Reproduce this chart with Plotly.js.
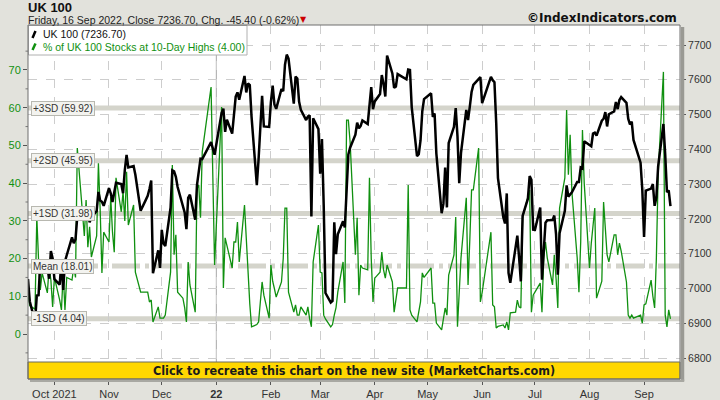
<!DOCTYPE html>
<html><head><meta charset="utf-8">
<script src="https://cdn.plot.ly/plotly-3.0.1.min.js"></script>
<style>html,body{margin:0;padding:0;background:#e2e2dc}#chart{width:720px;height:400px}</style>
</head><body><div id="chart"></div>
<script>
const dates = [
'2021-09-16','2021-09-17','2021-09-20','2021-09-21','2021-09-22','2021-09-23','2021-09-24','2021-09-27','2021-09-28','2021-09-29','2021-09-30',
'2021-10-01','2021-10-04','2021-10-05','2021-10-06','2021-10-07','2021-10-08','2021-10-11','2021-10-12','2021-10-13','2021-10-14','2021-10-15',
'2021-10-18','2021-10-19','2021-10-20','2021-10-21','2021-10-22','2021-10-25','2021-10-26','2021-10-27','2021-10-28','2021-10-29',
'2021-11-01','2021-11-02','2021-11-03','2021-11-04','2021-11-05','2021-11-08','2021-11-09','2021-11-10','2021-11-11','2021-11-12',
'2021-11-15','2021-11-16','2021-11-17','2021-11-18','2021-11-19','2021-11-22','2021-11-23','2021-11-24','2021-11-25','2021-11-26','2021-11-29','2021-11-30',
'2021-12-01','2021-12-02','2021-12-03','2021-12-06','2021-12-07','2021-12-08','2021-12-09','2021-12-10','2021-12-13','2021-12-14','2021-12-15','2021-12-16','2021-12-17',
'2021-12-20','2021-12-21','2021-12-22','2021-12-23','2021-12-24','2021-12-29','2021-12-30','2021-12-31',
'2022-01-04','2022-01-05','2022-01-06','2022-01-07','2022-01-10','2022-01-11','2022-01-12','2022-01-13','2022-01-14','2022-01-17','2022-01-18','2022-01-19','2022-01-20','2022-01-21',
'2022-01-24','2022-01-25','2022-01-26','2022-01-27','2022-01-28','2022-01-31',
'2022-02-01','2022-02-02','2022-02-03','2022-02-04','2022-02-07','2022-02-08','2022-02-09','2022-02-10','2022-02-11','2022-02-14','2022-02-15','2022-02-16','2022-02-17','2022-02-18',
'2022-02-21','2022-02-22','2022-02-23','2022-02-24','2022-02-25','2022-02-28',
'2022-03-01','2022-03-02','2022-03-03','2022-03-04','2022-03-07','2022-03-08','2022-03-09','2022-03-10','2022-03-11','2022-03-14','2022-03-15','2022-03-16','2022-03-17','2022-03-18',
'2022-03-21','2022-03-22','2022-03-23','2022-03-24','2022-03-25','2022-03-28','2022-03-29','2022-03-30','2022-03-31',
'2022-04-01','2022-04-04','2022-04-05','2022-04-06','2022-04-07','2022-04-08','2022-04-11','2022-04-12','2022-04-13','2022-04-14','2022-04-19','2022-04-20','2022-04-21','2022-04-22',
'2022-04-25','2022-04-26','2022-04-27','2022-04-28','2022-04-29',
'2022-05-03','2022-05-04','2022-05-05','2022-05-06','2022-05-09','2022-05-10','2022-05-11','2022-05-12','2022-05-13','2022-05-16','2022-05-17','2022-05-18','2022-05-19','2022-05-20',
'2022-05-23','2022-05-24','2022-05-25','2022-05-26','2022-05-27','2022-05-30','2022-05-31',
'2022-06-01','2022-06-06','2022-06-07','2022-06-08','2022-06-09','2022-06-10','2022-06-13','2022-06-14','2022-06-15','2022-06-16','2022-06-17',
'2022-06-20','2022-06-21','2022-06-22','2022-06-23','2022-06-24','2022-06-27','2022-06-28','2022-06-29','2022-06-30',
'2022-07-01','2022-07-04','2022-07-05','2022-07-06','2022-07-07','2022-07-08','2022-07-11','2022-07-12','2022-07-13','2022-07-14','2022-07-15',
'2022-07-18','2022-07-19','2022-07-20','2022-07-21','2022-07-22','2022-07-25','2022-07-26','2022-07-27','2022-07-28','2022-07-29',
'2022-08-01','2022-08-02','2022-08-03','2022-08-04','2022-08-05','2022-08-08','2022-08-09','2022-08-10','2022-08-11','2022-08-12',
'2022-08-15','2022-08-16','2022-08-17','2022-08-18','2022-08-19','2022-08-22','2022-08-23','2022-08-24','2022-08-25','2022-08-26','2022-08-30','2022-08-31',
'2022-09-01','2022-09-02','2022-09-05','2022-09-06','2022-09-07','2022-09-08','2022-09-09','2022-09-12','2022-09-13','2022-09-14','2022-09-15','2022-09-16'
];
const ukx = [
7027.1,6963.6,6903.9,6980.0,6980.9,7078.4,7051.5,7063.4,7028.1,7108.0,7086.4,
7027.1,7011.0,7077.1,6995.9,7078.0,7095.6,7146.9,7130.2,7141.8,7207.7,7234.0,
7203.8,7217.5,7223.1,7190.3,7204.6,7222.8,7277.6,7253.3,7249.5,7237.6,
7288.6,7274.0,7248.9,7279.8,7303.9,7300.4,7274.0,7340.2,7384.2,7347.9,
7351.9,7326.9,7291.2,7255.5,7223.6,7255.5,7266.7,7286.3,7310.4,7044.0,7109.9,7059.5,
7168.7,7129.2,7122.3,7232.3,7339.9,7337.1,7321.3,7291.8,7231.4,7218.6,7170.8,7260.6,7269.9,
7198.0,7297.4,7341.7,7373.3,7372.1,7420.7,7403.0,7384.5,
7505.2,7516.9,7450.4,7485.3,7445.3,7491.4,7551.7,7563.9,7542.9,7611.2,7563.6,7589.7,7585.0,7494.1,
7297.2,7371.5,7469.8,7554.3,7466.1,7464.4,
7535.8,7583.0,7528.8,7516.4,7573.5,7567.1,7643.4,7672.4,7661.0,7531.6,7608.9,7603.8,7537.4,7513.6,
7484.3,7494.2,7498.2,7207.4,7489.5,7458.3,
7330.2,7429.6,7238.9,6987.1,6959.5,6964.1,7190.7,7099.1,7155.6,7193.5,7175.7,7291.7,7385.3,7404.7,
7442.4,7476.7,7460.6,7467.4,7483.4,7473.1,7537.3,7578.8,7515.7,
7537.9,7558.9,7613.7,7587.7,7551.8,7669.6,7618.3,7576.7,7580.8,7616.4,7601.3,7629.2,7627.9,7521.7,
7380.5,7386.2,7425.6,7509.2,7544.6,
7561.3,7493.5,7503.3,7387.9,7216.6,7243.2,7347.7,7233.3,7418.2,7464.8,7518.4,7438.1,7302.7,7389.9,
7513.4,7484.4,7522.8,7564.9,7585.5,7600.1,7607.7,
7532.9,7608.2,7598.9,7593.0,7476.2,7317.5,7205.8,7187.5,7273.4,7044.9,7016.3,
7121.8,7152.1,7089.2,7020.5,7208.8,7258.3,7323.4,7312.3,7169.3,
7168.7,7232.7,7025.5,7107.8,7189.1,7196.2,7196.6,7209.9,7156.4,7039.8,7159.0,
7223.2,7296.3,7264.3,7270.5,7276.4,7306.3,7306.3,7348.2,7345.3,7423.4,
7413.4,7409.1,7445.7,7448.1,7439.7,7482.4,7488.1,7507.1,7465.9,7500.9,
7509.2,7536.1,7515.8,7541.9,7550.4,7533.8,7488.1,7471.5,7479.7,7427.3,7361.6,7284.2,
7148.5,7281.2,7287.4,7300.4,7237.8,7262.1,7351.1,7473.0,7385.9,7277.3,7282.1,7236.7
];
const pct = [
10.5,7.5,6.6,31,19.6,11.7,16.2,10.9,17.8,14.3,7.2,
15,9,6.4,16.2,6.4,15,14.3,17.8,15,49.3,43.5,
26,35.5,23,28.4,20.4,26,45.3,33,16.2,27,
24.4,36.3,27,21.7,41.4,32.4,37.7,30,43,28.9,
34.2,16.4,14.8,13,11.1,11.1,11.1,8.5,9,3.2,7.2,4.2,
4.2,4.2,5,16.4,44.8,21,26.3,11.1,9.5,7,3.2,19.1,13,
5.8,38.7,39.5,30.8,48.3,65.5,41.4,18.3,
60.2,12.2,25.5,23.6,17.5,24.4,24.4,29.7,19.1,34.2,24.4,14.8,8,1.9,
2.5,3.2,8,13.8,10.3,4.2,
18.3,14,12,9.8,13.8,20,33.4,33.4,11.1,5.8,7.7,5,5,7.2,
5,7.2,4,1.9,19.1,28.9,
16.4,16.2,5,4,1.9,2.5,5,7,11.1,19.1,8.2,56.7,56.7,50.9,
21,30.8,10.3,18.3,17.5,17,41.4,20,8.5,
14.8,16.4,21.7,17,14.8,18.3,13.8,5.8,9,12.2,12.2,39.5,6.4,5,
3.2,6,8.5,16.2,15,
17.5,8.2,8.2,2.9,1.1,4,6.9,5,15.6,21,31,1.9,10,20.2,
36.1,13,25,38.2,38.2,49.3,8.5,
11,27,7.7,7.2,1.6,2,2.4,1.6,3.2,1.1,5.6,
5.8,9,7.2,6.9,30.8,36.1,38.2,5.8,10.3,
11.1,13.5,5.8,20.2,24.4,20.2,13,21,14.8,6.9,33.4,
41.4,59.4,42.2,52.8,37.7,20.2,11.1,24.4,54.1,40,
17.5,24,29.7,33.4,9.5,14,35,27,21,19.1,
26.3,26.3,21,24.1,22,13.8,5,4.2,5,4.2,5,2.9,
7.7,8,14.3,10,6.9,20.2,42.2,69.5,5,1.9,6.4,4.0
];
const monthTicks = ['2021-10-01','2021-11-01','2021-12-01','2022-01-01','2022-02-01','2022-03-01','2022-04-01','2022-05-01','2022-06-01','2022-07-01','2022-08-01','2022-09-01'];
const monthLabels = ['Oct 2021','Nov','Dec','<b>22</b>','Feb','Mar','Apr','May','Jun','Jul','Aug','Sep'];
const yearStart = '2022-01-01';
const pctTicks = [0,10,20,30,40,50,60,70];
const pctMinor = [5,15,25,35,45,55,65,75,-5];
const ukxTicks = [6800,6900,7000,7100,7200,7300,7400,7500,7600,7700];
const sdValues = [59.92, 45.95, 31.98, 18.01, 4.04];
const sdLabels = ['+3SD (59.92)','+2SD (45.95)','+1SD (31.98)','Mean (18.01)','-1SD (4.04)'];
const titleText = 'UK 100';
const subText = 'Friday, 16 Sep 2022, Close 7236.70, Chg. -45.40 (-0.62%)';
const legendNames = ['UK 100 (7236.70)', '% of UK 100 Stocks at 10-Day Highs (4.00)'];

// pixel helpers (layout only)
const L=28, R=680, T=25, B=379, W=R-L, H=B-T;
const px = x => (x-L)/W;
const py = y => 1-(y-T)/H;
const FONT = 'Liberation Sans, Arial, sans-serif';
const GREEN = '#109010';

const traces = [
  {x: dates, y: pct, type:'scatter', mode:'lines', yaxis:'y', line:{color:GREEN, width:1.3}, name: legendNames[1], hoverinfo:'skip'},
  {x: dates, y: ukx, type:'scatter', mode:'lines', yaxis:'y2', line:{color:'#000', width:2.5}, name: legendNames[0], hoverinfo:'skip'}
];

const shapes = [];
const annotations = [];
sdValues.forEach((v,i)=>{
  const isMean = sdLabels[i].startsWith('Mean');
  shapes.push({type:'line', xref:'paper', x0:0, x1:1, yref:'y', y0:v, y1:v, layer:'between',
    line:{color:'#d4d4cb', width:5, dash: isMean ? '28px,5px,4px,5px' : 'solid'}});
  annotations.push({xref:'paper', yref:'y', x:px(31), y:v, xanchor:'left', yanchor:'middle', text:sdLabels[i], showarrow:false,
    font:{family:FONT, size:10, color:'#333'}, bgcolor:'#f3f3ef', bordercolor:'#b8b8b0', borderwidth:1, borderpad:1});
});
// left-axis minor ticks (small marks)
pctMinor.forEach(v=>{
  shapes.push({type:'line', xref:'paper', x0:px(25.5), x1:px(28), yref:'y', y0:v, y1:v, line:{color:'#777', width:1}, layer:'above'});
});
// year boundary line
shapes.push({type:'line', xref:'x', x0:yearStart, x1:yearStart, yref:'paper', y0:0, y1:1, layer:'between', line:{color:'#a8a8a8', width:1}});
// legend box
shapes.push({type:'rect', xref:'paper', yref:'paper', x0:px(28.5), x1:px(247), y0:py(55), y1:py(25.5), fillcolor:'#ffffff', line:{color:'#b0b0b0', width:1}, layer:'above'});
shapes.push({type:'line', xref:'paper', yref:'paper', x0:px(32.5), x1:px(35.5), y0:py(38), y1:py(31), line:{color:'#000', width:2.5}, layer:'above'});
shapes.push({type:'line', xref:'paper', yref:'paper', x0:px(32.5), x1:px(35.5), y0:py(50), y1:py(43.5), line:{color:GREEN, width:2.5}, layer:'above'});
annotations.push({xref:'paper', yref:'paper', x:px(40.5), y:py(34), xanchor:'left', yanchor:'middle', text:legendNames[0], showarrow:false, font:{family:FONT, size:10.5, color:'#111'}});
annotations.push({xref:'paper', yref:'paper', x:px(40.5), y:py(46.5), xanchor:'left', yanchor:'middle', text:legendNames[1], showarrow:false, font:{family:FONT, size:10.5, color:GREEN}});
// banner
shapes.push({type:'rect', xref:'paper', yref:'paper', x0:0, x1:1, y0:0, y1:py(362), fillcolor:'#ffd700', line:{color:'#6a6a60', width:1}, layer:'above'});
annotations.push({xref:'paper', yref:'paper', x:0.5, y:py(370.5), xanchor:'center', yanchor:'middle', showarrow:false,
  text:'<b>Click to recreate this chart on the new site (MarketCharts.com)</b>', font:{family:'DejaVu Sans Condensed, Liberation Sans Narrow, Liberation Sans, sans-serif', size:12.5, color:'#1a1a1a'}});
// shadow on right / bottom
shapes.push({type:'rect', xref:'paper', yref:'paper', x0:1.0015, x1:1.0065, y0:py(381), y1:py(27), fillcolor:'#9a9a94', line:{width:0}, layer:'above'});
shapes.push({type:'rect', xref:'paper', yref:'paper', x0:px(30), x1:1.0065, y0:py(382), y1:py(379.5), fillcolor:'#a8a8a2', line:{width:0}, layer:'above'});
// frame
shapes.push({type:'rect', xref:'paper', yref:'paper', x0:0, x1:1, y0:0, y1:1, line:{color:'#6e6e6e', width:1}, layer:'above'});
// titles
annotations.push({xref:'paper', yref:'paper', x:px(27), y:py(7.3), xanchor:'left', yanchor:'middle', showarrow:false, borderpad:0, text:'<b>'+titleText+'</b>', font:{family:FONT, size:13, color:'#111'}});
annotations.push({xref:'paper', yref:'paper', x:px(27), y:py(20), xanchor:'left', yanchor:'middle', showarrow:false, borderpad:0, text:subText, font:{family:FONT, size:10.5, color:'#222'}});
annotations.push({xref:'paper', yref:'paper', x:px(299), y:py(20), xanchor:'left', yanchor:'middle', showarrow:false, borderpad:0, text:'▼', font:{family:'DejaVu Sans', size:8, color:'#cc0000'}});
annotations.push({xref:'paper', yref:'paper', x:px(679), y:py(17.5), xanchor:'right', yanchor:'middle', showarrow:false, text:'<b>©IndexIndicators.com</b>', font:{family:'DejaVu Sans, sans-serif', size:12, color:'#111'}});

const layout = {
  width:720, height:400,
  margin:{l:L, r:720-R, t:T, b:400-B, pad:0},
  paper_bgcolor:'#e2e2dc', plot_bgcolor:'#ffffff',
  showlegend:false,
  xaxis:{type:'date', range:['2021-09-16','2022-09-21 10:00'], tickmode:'array', tickvals:monthTicks, ticktext:monthLabels,
    showgrid:true, gridcolor:'#cdcdcd', griddash:'dash', gridwidth:1, ticks:'outside', ticklen:5, tickcolor:'#555',
    tickfont:{family:FONT, size:11, color:'#333'}, showline:false, zeroline:false, fixedrange:true},
  yaxis:{range:[-11.93, 81.93], side:'left', tickmode:'array', tickvals:pctTicks, showgrid:false, zeroline:false,
    ticks:'outside', ticklen:4, tickcolor:'#555', tickfont:{family:FONT, size:11, color:GREEN}, showline:false},
  yaxis2:{range:[6740, 7757.5], side:'right', overlaying:'y', tickmode:'array', tickvals:ukxTicks,
    showgrid:true, gridcolor:'#cdcdcd', griddash:'dash', zeroline:false, ticks:'outside', ticklen:5, tickcolor:'#555',
    tickfont:{family:FONT, size:10.5, color:'#333'}, minor:{dtick:50, ticklen:2, ticks:'outside', tickcolor:'#777', showgrid:false}, showline:false},
  shapes, annotations
};
Plotly.newPlot('chart', traces, layout, {staticPlot:true, displayModeBar:false});
</script></body></html>
